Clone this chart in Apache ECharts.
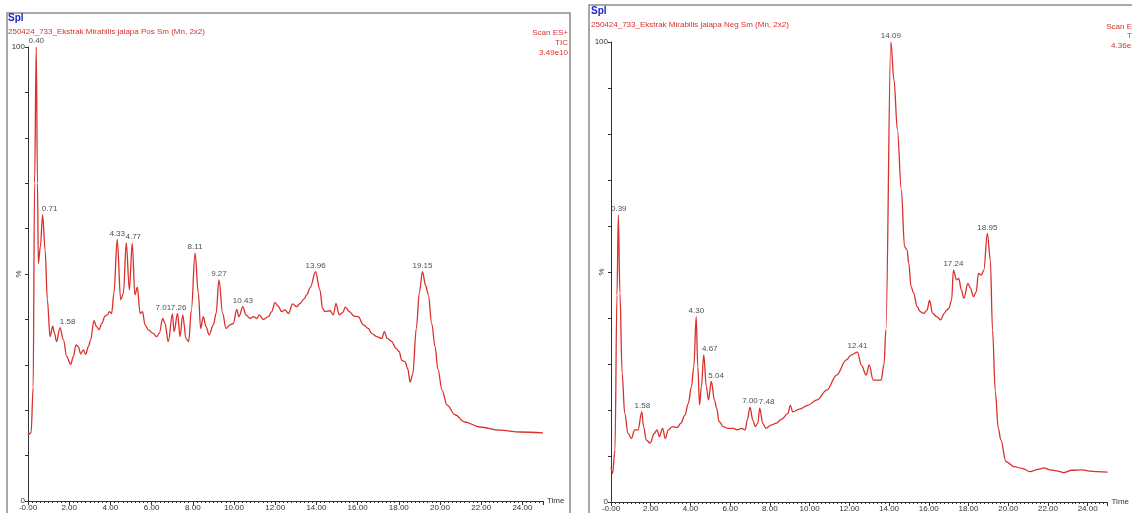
<!DOCTYPE html>
<html>
<head>
<meta charset="utf-8">
<script src="https://cdn.jsdelivr.net/npm/echarts@6/dist/echarts.min.js"></script>
<style>
html,body{margin:0;padding:0;background:#fff;}
#c{width:1132px;height:513px;}
</style>
</head>
<body>
<div id="c"></div>
<script>
// ---- Positive mode TIC (time min, relative intensity %) ----
const posTime = [0.00,0.15,0.25,0.32,0.40,0.46,0.50,0.60,0.71,0.83,0.94,1.07,1.20,1.28,1.39,1.55,1.72,1.88,2.07,2.20,2.33,2.44,2.56,2.69,2.80,2.93,3.04,3.20,3.33,3.45,3.58,3.74,3.85,3.95,4.06,4.17,4.33,4.50,4.63,4.77,4.92,5.06,5.19,5.31,5.44,5.56,5.68,5.84,6.08,6.25,6.37,6.54,6.65,6.81,7.01,7.09,7.26,7.38,7.51,7.67,7.80,7.93,8.11,8.27,8.38,8.51,8.64,8.79,9.00,9.13,9.27,9.45,9.61,9.81,9.97,10.13,10.24,10.43,10.58,10.78,10.94,11.10,11.23,11.42,11.67,11.83,11.99,12.15,12.31,12.48,12.64,12.85,13.04,13.20,13.40,13.53,13.70,13.96,14.17,14.30,14.42,14.66,14.82,14.95,15.11,15.28,15.40,15.60,15.83,16.03,16.28,16.52,16.68,16.93,17.17,17.30,17.44,17.66,17.86,18.02,18.14,18.30,18.43,18.55,18.68,18.85,19.00,19.15,19.30,19.43,19.60,19.76,19.90,20.10,20.34,20.73,21.20,21.94,22.90,23.90,25.00];
const posPct  = [14.5,15,25,70,100,70,52.3,56,63,55.3,44.3,36.2,38.5,37,35.1,38.2,35.5,31.8,30.1,31.8,34.4,34,32.4,33.3,32.3,34,35.5,39.7,38.4,37.7,39.1,40.7,41,41.7,41.3,45.7,57.6,44.3,45.7,56.9,46.5,56.8,45.4,47.1,41.3,41.7,38.8,37.7,36.9,36.2,36.9,40.2,39.1,35.1,41.2,37.3,41.3,36.2,41,35.8,35.1,42.1,54.6,45.7,38,40.6,38.4,36.6,38.8,41.3,48.7,41.3,38,38.8,39.1,42.2,40.6,42.8,41,40.2,40.6,40.2,41,40,40.6,41.7,43.7,42.9,41.7,42.1,41.3,43.4,42.8,43.5,44.5,45.4,47,50.5,46.5,42.4,41.7,41.9,41,43.5,41,41.5,42.7,41.7,40.7,40.6,38.8,38,36.9,36.2,35.8,37.3,35.8,35.1,33.6,32.9,31,30.7,29.2,26.2,28,38,46,50.5,47.5,45.5,39,34,29,24.4,21.1,19,17.4,16.3,15.6,15.2,15];
const posPeakTime = [0.40,0.71,1.58,4.33,4.77,7.01,7.26,8.11,9.27,10.43,13.96,19.15];
const posPeakPct  = [100,63,38.2,57.6,56.9,41.2,41.3,54.6,48.7,42.8,50.5,50.5];

// ---- Negative mode TIC ----
const negTime = [0.00,0.08,0.20,0.30,0.37,0.45,0.56,0.69,0.86,1.03,1.19,1.36,1.55,1.64,1.77,1.97,2.18,2.32,2.43,2.60,2.73,2.89,3.09,3.34,3.51,3.72,3.89,4.05,4.17,4.29,4.37,4.46,4.55,4.67,4.80,4.91,5.05,5.21,5.32,5.44,5.65,5.90,6.15,6.37,6.56,6.76,6.86,7.00,7.14,7.26,7.39,7.49,7.64,7.80,8.05,8.30,8.60,8.90,9.03,9.15,9.50,9.90,10.37,10.86,11.36,11.85,12.10,12.41,12.60,12.85,13.00,13.20,13.60,13.75,13.84,14.09,14.25,14.42,14.62,14.78,14.91,14.99,15.11,15.24,15.41,15.57,15.74,15.91,16.04,16.19,16.40,16.60,16.78,16.90,17.01,17.15,17.24,17.40,17.51,17.64,17.77,17.97,18.10,18.25,18.39,18.50,18.64,18.77,18.95,19.10,19.21,19.35,19.50,19.63,19.88,20.29,20.70,21.10,21.50,21.80,22.10,22.50,22.80,23.20,23.70,24.10,24.50,25.00];
const negPct  = [7.5,6.2,11.3,45,62.4,45.4,28,19.3,14.9,13.8,15.7,15.7,19.6,16.4,13.5,12.8,14.9,15.7,14.2,16,13.8,15.7,16.4,16.2,17.1,18.9,21.4,25.1,29.4,40.3,29.4,21.1,25.1,32,25.1,22.2,26.2,22.2,20.4,17.5,16.4,16,16,15.7,16,15.7,17.8,20.6,17.8,16.4,17.1,20.4,17.1,16,16.7,17.1,18,19.2,21,19.6,20.2,21,22.2,24.3,27.6,30.9,32,32.6,29.8,27.6,29.8,26.5,26.5,30,37.4,100,91.7,80.9,67.8,55.5,54.8,51.9,46.8,45.4,42.5,41.4,41,41.7,43.8,41,40.3,39.6,41,41.7,42.1,43.9,50.4,48.3,48.6,46.1,44.3,47.5,46.5,44.6,45.7,49.7,49.3,50.4,58.4,52.6,37.4,24,16,13.5,8.8,7.7,7.3,6.6,7.1,7.4,7,6.7,6.4,6.9,7,6.7,6.6,6.5];
const negPeakTime = [0.39,1.58,4.30,4.67,5.04,7.00,7.48,12.41,14.09,17.24,18.95];
const negPeakPct  = [62.4,19.6,40.3,32,26.2,20.6,20.4,32.6,100,50.4,58.4];

// ---- Header texts ----
const posTitle = '250424_733_Ekstrak Mirabilis jalapa Pos Sm (Mn, 2x2)';
const negTitle = '250424_733_Ekstrak Mirabilis jalapa Neg Sm (Mn, 2x2)';
const posInfo = ['Scan ES+','TIC','3.49e10'];
const negInfo = ['Scan ES-','TIC','4.36e10'];

const FONT = 'Liberation Sans';
const RED = '#d9302c';
const AX = '#333';
// horizontal nudges of some crowded peak labels (px), keyed by label text
const labelNudge = {pos:{'0.71':7,'1.58':7,'4.77':7,'7.01':-9,'7.26':1}, neg:{'4.67':6,'5.04':5,'7.48':7}};

function zip(a,b){return a.map((v,i)=>[v,b[i]]);}

function xAxisCfg(gi){
  return {
    type:'value', gridIndex:gi, min:0, max:25, interval:2,
    name:'Time', nameLocation:'end', nameGap:4,
    nameTextStyle:{fontFamily:FONT,fontSize:8,color:'#333'},
    axisLine:{show:true,lineStyle:{color:AX,width:1}},
    axisTick:{show:true,length:4,lineStyle:{color:AX}},
    minorTick:{show:true,splitNumber:10,length:2,lineStyle:{color:AX}},
    splitLine:{show:false},
    axisLabel:{fontFamily:FONT,fontSize:8,color:'#333',margin:3,
      formatter:v=> (Math.abs(v%2)>1e-6)?'':(v===0?'-0.00':v.toFixed(2))}
  };
}
function yAxisCfg(gi){
  return {
    type:'value', gridIndex:gi, min:0, max:100, interval:10,
    name:'%', nameLocation:'middle', nameRotate:90, nameGap:5, nameMoveOverlap:false,
    nameTextStyle:{fontFamily:FONT,fontSize:8,color:'#333'},
    axisLine:{show:true,lineStyle:{color:AX,width:1}},
    axisTick:{show:true,length:3,lineStyle:{color:AX}},
    splitLine:{show:false},
    axisLabel:{fontFamily:FONT,fontSize:8,color:'#333',margin:3,
      formatter:v=> (v===0||v===100)?String(v):''}
  };
}
function lineSeries(gi,t,p){
  return {type:'line',xAxisIndex:gi,yAxisIndex:gi,data:zip(t,p),showSymbol:false,
    smooth:0.35,smoothMonotone:'x',lineStyle:{color:RED,width:1.3},silent:true,z:3};
}
function peakSeries(gi,t,p,nudge){
  return {type:'scatter',xAxisIndex:gi,yAxisIndex:gi,symbolSize:0,silent:true,z:4,
    data:zip(t,p).map(d=>{
      const k=d[0].toFixed(2);
      return nudge[k]?{value:d,label:{offset:[nudge[k],0]}}:{value:d};
    }),
    label:{show:true,position:'top',distance:2,fontFamily:FONT,fontSize:8,color:'#222',
      formatter:pr=>pr.value[0].toFixed(2)}};
}

const chart = echarts.init(document.getElementById('c'),null,{renderer:'canvas'});
chart.setOption({
  animation:false,
  backgroundColor:'#fff',
  grid:[
    {left:28,top:47,width:515,height:454},
    {left:611,top:42,width:508,height:460}
  ],
  xAxis:[xAxisCfg(0),xAxisCfg(1)],
  yAxis:[yAxisCfg(0),yAxisCfg(1)],
  series:[
    lineSeries(0,posTime,posPct), peakSeries(0,posPeakTime,posPeakPct,labelNudge.pos),
    lineSeries(1,negTime,negPct), peakSeries(1,negPeakTime,negPeakPct,labelNudge.neg)
  ],
  graphic:[
    {type:'rect',shape:{x:7,y:13,width:563,height:520},style:{fill:'none',stroke:'#8c8c8c',lineWidth:1.5}},
    {type:'rect',shape:{x:589,y:5,width:600,height:530},style:{fill:'none',stroke:'#8c8c8c',lineWidth:1.5}},
    {type:'text',left:8,top:13,style:{text:'Spl',fill:'#1f22c8',font:'bold 10px '+FONT}},
    {type:'text',left:8,top:28,style:{text:posTitle,fill:RED,font:'8px '+FONT}},
    {type:'text',left:591,top:6,style:{text:'Spl',fill:'#1f22c8',font:'bold 10px '+FONT}},
    {type:'text',left:591,top:21,style:{text:negTitle,fill:RED,font:'8px '+FONT}},
    {type:'text',x:568,y:28,style:{text:posInfo.join('\n'),fill:RED,font:'8px '+FONT,align:'right',lineHeight:10}},
    {type:'text',x:1140,y:22,style:{text:negInfo.join('\n'),fill:RED,font:'8px '+FONT,align:'right',lineHeight:9.5}}
  ]
});
</script>
</body>
</html>
